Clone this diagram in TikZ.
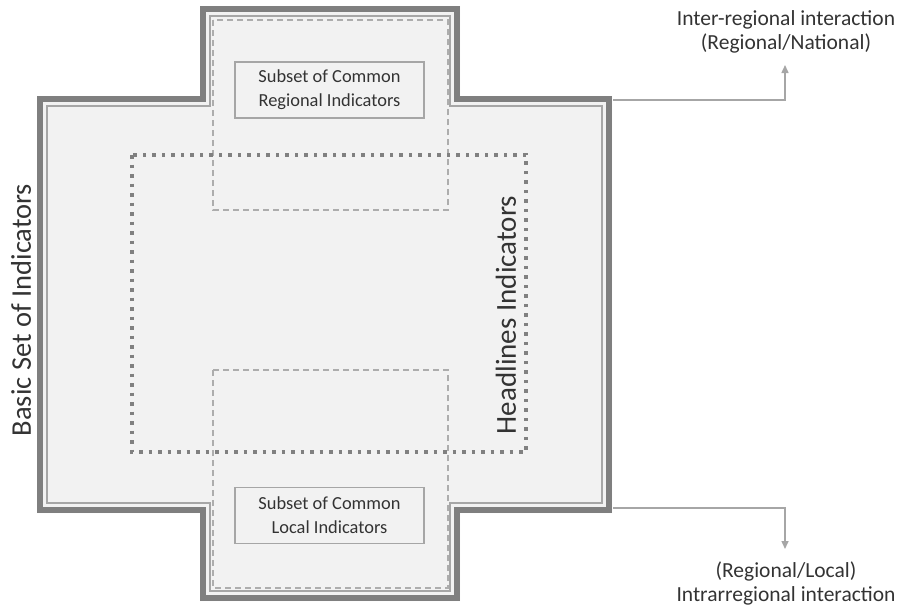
\documentclass[tikz,border=0pt]{standalone}
\usepackage{fontspec}
\setmainfont{Carlito}
\usetikzlibrary{arrows.meta}

\definecolor{panel}{HTML}{F2F2F2}
\definecolor{rimdark}{HTML}{7F7F7F}
\definecolor{rimlight}{HTML}{A6A6A6}
\definecolor{dashgray}{HTML}{ADADAD}
\definecolor{dotgray}{HTML}{808080}
\definecolor{linkgray}{HTML}{A6A6A6}
\definecolor{ink}{HTML}{333333}

% outline of the cross, pushed inwards by #1
\newcommand\crossoutline[1]{%
  ({200+#1},{6+#1}) -- ({460-#1},{6+#1}) -- ({460-#1},{96+#1}) --
  ({612-#1},{96+#1}) -- ({612-#1},{513-#1}) -- ({460-#1},{513-#1}) --
  ({460-#1},{601-#1}) -- ({200+#1},{601-#1}) -- ({200+#1},{513-#1}) --
  ({37+#1},{513-#1}) -- ({37+#1},{96+#1}) -- ({200+#1},{96+#1}) -- cycle}

\tikzset{
  armframe/.style={draw=dashgray, line width=1.3pt, dash pattern=on 6pt off 4pt},
  headframe/.style={draw=dotgray, line width=3.5pt, dash pattern=on 3.5pt off 6pt},
  subsetbox/.style={draw=rimlight, line width=1.3pt, fill=panel, text=ink,
    align=center, minimum width=189pt, minimum height=56pt, inner sep=0pt,
    font=\fontsize{18.4}{24}\selectfont},
  biglabel/.style={text=ink, rotate=90, inner sep=0pt},
  sidelabel/.style={text=ink, align=center, inner sep=0pt,
    font=\fontsize{21.5}{24}\selectfont},
  link/.style={draw=linkgray, line width=1.5pt, -{Triangle[length=8pt,width=7pt]}}
}

\begin{document}
\begin{tikzpicture}[x=1pt, y=-1pt]
  \useasboundingbox (0,0) rectangle (899,605);

  % the cross with its double rim
  \fill[panel] \crossoutline{0};
  \draw[rimdark, line width=6pt] \crossoutline{3};
  \draw[rimlight, line width=1.5pt] \crossoutline{10};

  % dashed arm frames and dotted headline frame
  \draw[armframe] (213,20) rectangle (448,210);
  \draw[armframe] (213,370) rectangle (448,588);
  \draw[headframe] (132,155) rectangle (526,452);

  % boxes
  \node[subsetbox] (regional) at (329.5,90) {Subset of Common\\Regional Indicators};
  \node[subsetbox] (local) at (329.5,515.5) {Subset of Common\\Local Indicators};

  % rotated labels
  \node[biglabel, font=\fontsize{28.5}{30}\selectfont] (basic) at (21,310) {Basic Set of Indicators};
  \node[biglabel, font=\fontsize{29}{30}\selectfont] (headline) at (506,315) {Headlines Indicators};

  % interaction labels
  \node[sidelabel] (inter) at (786,32) {Inter-regional interaction\\(Regional/National)};
  \node[sidelabel] (intra) at (786,583) {(Regional/Local)\\Intrarregional interaction};

  % connectors
  \coordinate (upstart) at (613,100);
  \coordinate (uptip) at (785,65);
  \coordinate (downstart) at (613,508);
  \coordinate (downtip) at (785,549);
  \draw[link] (upstart) -| (uptip);
  \draw[link] (downstart) -| (downtip);
\end{tikzpicture}
\end{document}
